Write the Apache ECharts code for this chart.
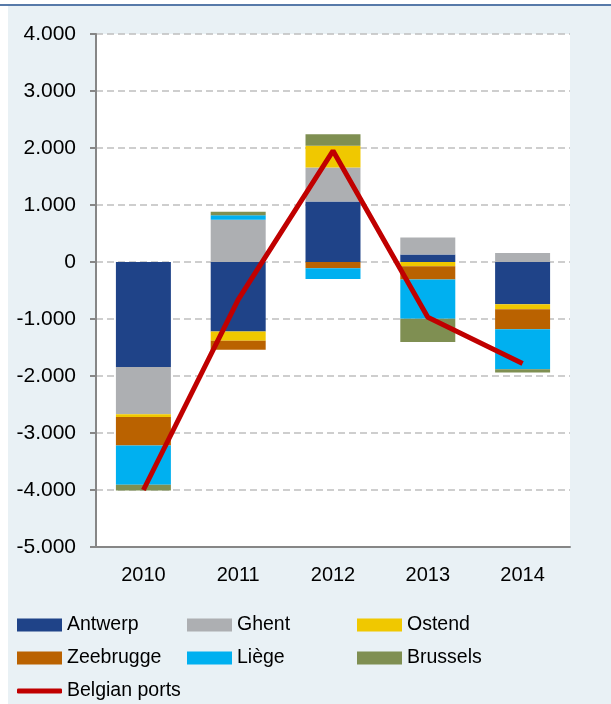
<!DOCTYPE html>
<html lang="en">
<head>
    <meta charset="UTF-8">
    <title>Belgian ports</title>
    <script src="https://cdn.jsdelivr.net/npm/echarts@6/dist/echarts.min.js"></script>
    <style>
        html, body { margin: 0; padding: 0; background: #fff; }
        #chart { width: 611px; height: 704px; }
    </style>
</head>
<body>
    <div id="chart"></div>
    <script>
        // data
        const years = ['2010', '2011', '2012', '2013', '2014'];
        const antwerp = [-1840, -1220, 1060, 130, -740];
        const ghent = [-830, 740, 600, 300, 160];
        const ostend = [-50, -160, 380, -75, -90];
        const zeebrugge = [-500, -160, -110, -230, -350];
        const liege = [-690, 80, -190, -690, -700];
        const brussels = [-100, 60, 200, -410, -60];
        const belgianPorts = [-4000, -660, 1950, -970, -1780];

        const chart = echarts.init(document.getElementById('chart'));
        const font = 'Liberation Sans, Arial, sans-serif';

        // 4000 -> "4.000"
        const fmt = v => {
            const s = String(Math.abs(v)).replace(/\B(?=(\d{3})+(?!\d))/g, '.');
            return (v < 0 ? '-' : '') + s;
        };

        const barSeries = [
            ['Antwerp', antwerp, '#1F4388'],
            ['Ghent', ghent, '#ADAFB2'],
            ['Ostend', ostend, '#F0C800'],
            ['Zeebrugge', zeebrugge, '#BA6200'],
            ['Liège', liege, '#00B0F0'],
            ['Brussels', brussels, '#7F8F52']
        ].map(([name, data, color]) => ({
            name: name,
            type: 'bar',
            stack: 'total',
            barWidth: '58%',
            data: data,
            itemStyle: { color: color },
            emphasis: { disabled: true }
        }));

        // one legend per item so each sits on its own grid position
        const legendPos = [
            ['Antwerp', 17, 615], ['Ghent', 187, 615], ['Ostend', 357, 615],
            ['Zeebrugge', 17, 648], ['Liège', 187, 648], ['Brussels', 357, 648]
        ];
        const legends = legendPos.map(([name, x, y]) => ({
            left: x, top: y, padding: 0,
            data: [name],
            icon: 'rect',
            itemWidth: 45, itemHeight: 13,
            selectedMode: false,
            textStyle: { fontSize: 19.5, color: '#000', fontFamily: font, lineHeight: 20 }
        }));
        legends.push({
            left: 17, top: 681, padding: 0,
            data: ['Belgian ports'],
            icon: 'roundRect',
            itemWidth: 45, itemHeight: 5,
            selectedMode: false,
            textStyle: { fontSize: 19.5, color: '#000', fontFamily: font, lineHeight: 20 }
        });

        const option = {
            backgroundColor: '#fff',
            animation: false,
            graphic: [
                { type: 'rect', z: -10, shape: { x: 8, y: 6, width: 603, height: 698 }, style: { fill: '#E9F1F5' } },
                { type: 'line', z: -9, shape: { x1: 0, y1: 5, x2: 611, y2: 5 }, style: { stroke: '#1F4E8C', lineWidth: 1.5 } }
            ],
            legend: legends,
            grid: {
                left: 96, top: 34, width: 474, height: 513,
                show: true, backgroundColor: '#fff', borderWidth: 0
            },
            xAxis: {
                type: 'category',
                data: years,
                axisLine: { onZero: false, lineStyle: { color: '#868686', width: 2 } },
                axisTick: { length: 6, lineStyle: { color: '#868686', width: 2 } },
                axisLabel: { margin: 18, fontSize: 20, color: '#000', fontFamily: font }
            },
            yAxis: {
                type: 'value',
                min: -5000, max: 4000, interval: 1000,
                axisLine: { show: true, lineStyle: { color: '#868686', width: 2 } },
                axisTick: { show: true, length: 6, lineStyle: { color: '#868686', width: 2 } },
                axisLabel: { margin: 20, fontSize: 21, color: '#000', fontFamily: font, formatter: fmt },
                splitLine: { lineStyle: { color: '#BFBFBF', type: [7, 4], width: 1.5 } }
            },
            series: [
                ...barSeries,
                {
                    name: 'Belgian ports',
                    type: 'line',
                    data: belgianPorts,
                    symbol: 'none',
                    z: 5,
                    lineStyle: { color: '#C00000', width: 5 },
                    itemStyle: { color: '#C00000' },
                    emphasis: { disabled: true }
                }
            ]
        };

        chart.setOption(option);
    </script>
</body>
</html>
